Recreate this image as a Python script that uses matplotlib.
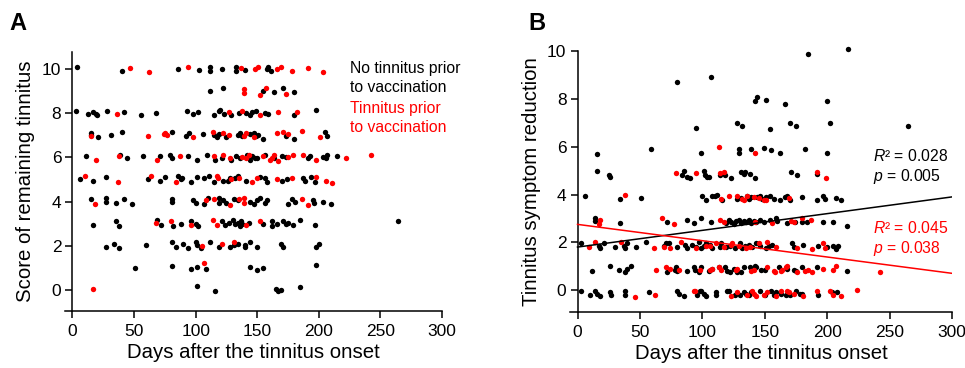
import matplotlib
matplotlib.use("Agg")
import matplotlib.pyplot as plt

plt.rcParams["font.family"] = ["Liberation Sans", "DejaVu Sans"]
plt.rcParams["mathtext.fontset"] = "custom"
plt.rcParams["mathtext.rm"] = "Liberation Sans"
plt.rcParams["mathtext.it"] = "Liberation Sans:italic"

RED = "#ff0000"
BLACK = "#000000"

# Panel A: (days after onset, remaining tinnitus score) - jittered
a_no_prior = [
    (4, 10.1), (40, 9.9), (86, 10.0), (103, 9.95), (112, 10.1), (112, 9.9), (121, 10.0), (133, 10.1),
    (133, 9.9), (140, 9.95), (158, 10.0), (159, 10.1), (161, 9.9),
    (112, 9.0), (122, 9.15), (155, 9.0), (164, 8.95), (171, 9.15), (180, 8.95),
    (3, 8.1), (13, 7.95), (17, 8.05), (19, 7.95), (20, 7.9), (28, 8.1), (42, 8.05), (56, 7.9), (68, 8.0),
    (93, 8.1), (98, 7.95), (102, 8.05), (115, 7.9), (119, 8.1), (120, 8.15), (123, 7.95), (129, 7.9),
    (135, 8.0), (141, 8.0), (144, 7.9), (146, 8.05), (149, 8.1), (156, 8.0), (159, 7.95), (180, 7.9), (198, 8.15),
    (15, 7.1), (15, 7.0), (21, 6.9), (31, 7.0), (40, 7.15), (81, 7.15), (92, 6.95), (95, 7.1), (106, 7.05),
    (115, 7.0), (117, 6.9), (119, 7.05), (125, 6.9), (134, 7.0), (136, 7.1), (138, 6.95), (144, 7.05),
    (147, 7.1), (149, 6.95), (151, 7.0), (155, 6.85), (173, 6.95), (180, 6.85), (205, 7.15), (207, 6.95),
    (11, 6.05), (39, 6.1), (44, 5.95), (57, 6.05), (71, 6.05), (79, 6.1), (81, 5.95), (94, 6.05), (101, 5.9),
    (109, 6.1), (116, 5.9), (121, 5.95), (129, 5.9), (133, 6.05), (136, 5.95), (142, 6.1), (144, 5.9),
    (146, 6.05), (148, 5.95), (150, 5.95), (156, 6.1), (164, 5.95), (170, 6.05), (173, 6.0), (191, 5.95),
    (193, 6.05), (203, 6.0), (206, 5.95), (207, 6.1), (215, 6.05),
    (6, 5.0), (17, 4.95), (27, 5.1), (61, 5.0), (71, 4.95), (75, 5.1), (86, 5.15), (88, 5.0), (89, 5.05),
    (96, 4.9), (101, 5.1), (107, 5.05), (111, 5.15), (115, 4.9), (122, 4.95), (126, 4.95), (128, 5.05),
    (132, 5.05), (134, 5.15), (141, 4.95), (152, 5.1), (156, 5.05), (158, 4.9), (170, 4.95), (174, 5.0),
    (187, 5.05), (189, 4.95), (194, 5.1), (197, 4.9),
    (15, 4.1), (27, 4.15), (27, 4.0), (35, 3.95), (42, 4.1), (48, 3.9), (81, 4.1), (81, 4.0), (98, 4.05),
    (100, 3.95), (107, 3.9), (110, 4.15), (119, 3.95), (119, 4.15), (122, 4.05), (125, 3.95), (131, 4.1),
    (134, 4.05), (144, 4.0), (147, 3.9), (150, 4.05), (152, 4.15), (156, 3.95), (158, 4.05), (175, 3.9),
    (178, 4.1), (181, 4.0), (195, 4.05), (196, 3.95), (203, 4.0), (210, 3.9),
    (17, 2.95), (35, 3.1), (38, 2.9), (69, 3.15), (72, 2.95), (82, 2.9), (88, 3.0), (96, 3.1), (100, 3.0),
    (102, 2.9), (121, 3.1), (124, 2.95), (127, 3.05), (130, 3.15), (132, 3.0), (134, 3.05), (136, 2.9),
    (137, 3.1), (138, 3.0), (143, 3.05), (155, 3.0), (162, 3.1), (162, 2.9), (166, 3.0), (171, 3.1),
    (173, 3.0), (175, 3.05), (179, 2.95), (185, 3.15), (197, 2.95), (264, 3.1),
    (27, 1.95), (34, 2.1), (38, 1.9), (60, 2.05), (81, 2.15), (84, 1.95), (90, 2.1), (94, 1.9), (100, 2.15),
    (101, 2.05), (104, 1.9), (112, 2.15), (119, 1.95), (128, 1.95), (131, 2.05), (134, 2.1), (140, 2.05),
    (140, 1.95), (144, 2.15), (150, 1.95), (169, 2.1), (171, 1.95), (198, 1.95), (200, 2.1),
    (51, 1.0), (81, 1.1), (96, 0.95), (101, 1.05), (108, 0.95), (144, 1.05), (150, 0.9), (155, 1.0), (198, 1.15),
    (101, 0.2), (116, -0.05), (165, 0.05), (167, -0.05), (169, 0.0), (185, 0.15),
]
a_prior = [
    (47, 10.05), (62, 9.85), (94, 10.1), (137, 10.05), (148, 10.0), (151, 10.1), (166, 10.0), (169, 10.1),
    (178, 9.9), (191, 10.05), (203, 9.85),
    (139, 9.1), (139, 8.9), (152, 8.8), (157, 9.15), (173, 8.85),
    (36, 7.95), (127, 8.05), (138, 8.1), (152, 7.9), (167, 8.05), (182, 8.05),
    (15, 6.95), (61, 6.95), (74, 7.05), (75, 7.1), (77, 7.0), (98, 6.9), (114, 7.15), (122, 7.1), (127, 7.0),
    (139, 6.95), (141, 7.1), (147, 6.9), (166, 7.1), (171, 7.15), (175, 7.05), (186, 7.2), (201, 6.9),
    (19, 5.9), (38, 6.05), (69, 5.9), (87, 6.05), (115, 6.05), (122, 6.1), (128, 5.95), (138, 6.0), (141, 5.95),
    (143, 6.1), (155, 6.05), (160, 5.9), (162, 5.95), (164, 6.1), (167, 5.85), (175, 6.0), (179, 6.1),
    (187, 6.1), (198, 5.9), (222, 5.95), (242, 6.1),
    (10, 5.15), (37, 4.9), (64, 5.15), (84, 4.9), (117, 5.15), (118, 5.05), (129, 5.0), (135, 5.05),
    (146, 4.9), (150, 5.05), (166, 5.0), (178, 5.05), (198, 5.1), (206, 4.95), (211, 4.85),
    (18, 3.9), (108, 4.05), (115, 4.1), (128, 3.85), (135, 4.1), (139, 4.15), (139, 3.95), (186, 4.1), (191, 3.85),
    (68, 3.05), (80, 3.1), (96, 2.95), (114, 3.15), (117, 2.95), (141, 2.95), (152, 3.1),
    (105, 2.0), (121, 2.1), (131, 2.15),
    (107, 1.2),
    (17, 0.05),
]

# Panel B: (days after onset, symptom reduction) - jittered
b_no_prior = [
    (185, 9.87), (217, 10.08), (80, 8.7), (107, 8.9), (142, 7.9), (144, 8.1), (151, 7.95), (166, 7.8), (200, 7.9),
    (95, 6.8), (128, 7.0), (132, 6.85), (154, 6.75), (170, 7.0), (175, 6.85), (202, 7.0), (265, 6.86),
    (16, 5.7), (59, 5.9), (99, 5.75), (129, 5.9), (129, 5.75), (139, 5.9), (149, 5.95), (155, 5.85),
    (162, 5.75), (182, 5.9), (200, 5.75),
    (16, 5.0), (25, 4.8), (26, 4.75), (84, 4.8), (85, 5.0), (88, 4.75), (90, 4.7), (101, 5.0), (102, 4.8),
    (104, 4.75), (105, 4.75), (114, 4.8), (118, 4.8), (123, 4.7), (131, 4.95), (133, 4.85), (134, 4.95),
    (138, 4.85), (142, 4.7), (171, 4.95), (176, 4.8), (192, 4.85),
    (6, 3.95), (34, 3.8), (51, 3.85), (100, 3.95), (103, 3.75), (108, 3.95), (110, 3.95), (112, 4.0),
    (116, 3.75), (128, 3.8), (131, 3.85), (136, 3.95), (137, 3.8), (139, 3.9), (144, 3.9), (146, 3.95),
    (148, 3.8), (151, 3.9), (154, 3.95), (157, 3.8), (162, 3.75), (166, 3.9), (168, 3.95), (170, 3.75),
    (180, 3.9), (192, 3.75), (197, 3.95), (198, 3.8), (207, 3.85), (211, 3.75),
    (14, 3.0), (14, 2.9), (34, 2.8), (72, 2.85), (88, 2.95), (93, 2.8), (99, 3.0), (107, 2.85), (119, 2.8),
    (121, 2.95), (123, 2.85), (125, 2.75), (127, 2.9), (129, 2.95), (131, 2.8), (133, 2.9), (135, 2.85),
    (137, 2.95), (139, 2.8), (141, 2.9), (143, 2.85), (146, 2.95), (149, 2.85), (154, 2.95), (159, 3.0),
    (160, 2.9), (168, 2.8), (174, 2.85), (180, 2.85), (184, 2.85), (197, 2.85), (205, 2.85), (216, 2.7),
    (3, 1.95), (17, 1.85), (18, 1.75), (21, 1.95), (30, 1.8), (37, 1.85), (38, 1.75), (40, 1.95), (47, 1.8),
    (55, 2.0), (69, 1.85), (71, 1.95), (73, 1.95), (80, 1.8), (86, 1.9), (88, 1.75), (92, 1.9), (95, 1.8),
    (97, 2.0), (99, 1.75), (101, 1.85), (103, 1.95), (106, 1.9), (108, 1.75), (114, 1.8), (115, 1.95),
    (119, 1.8), (122, 1.85), (126, 1.75), (130, 1.95), (132, 1.75), (134, 1.85), (137, 1.9), (140, 1.8),
    (143, 1.95), (146, 1.85), (151, 1.75), (153, 1.85), (156, 1.9), (172, 1.95), (173, 1.8), (181, 1.9),
    (193, 1.85), (200, 1.8), (205, 1.85), (207, 1.7), (209, 1.85),
    (12, 0.8), (26, 1.0), (33, 0.85), (38, 0.75), (40, 0.9), (43, 1.0), (72, 0.75), (78, 0.85), (79, 0.95),
    (80, 0.8), (88, 0.8), (93, 0.95), (94, 0.85), (97, 0.75), (99, 0.95), (105, 0.8), (108, 0.9), (113, 0.95),
    (118, 0.95), (120, 0.8), (122, 0.75), (125, 0.9), (128, 0.75), (131, 0.75), (133, 0.95), (138, 0.95),
    (142, 1.0), (143, 0.95), (147, 0.85), (150, 0.85), (161, 0.95), (168, 0.9), (173, 0.85), (175, 0.8),
    (180, 0.95), (192, 0.95), (216, 0.8),
    (3, -0.05), (10, -0.2), (14, -0.05), (16, -0.15), (18, -0.25), (26, -0.1), (27, -0.2), (38, -0.05),
    (38, -0.2), (57, -0.1), (80, -0.05), (81, -0.15), (85, -0.25), (96, -0.2), (98, -0.05), (99, -0.05),
    (101, -0.15), (103, -0.25), (111, -0.1), (111, -0.2), (120, -0.05), (121, -0.05), (126, -0.2),
    (130, -0.2), (133, -0.1), (135, -0.15), (137, -0.2), (139, -0.1), (146, -0.05), (150, -0.2),
    (155, -0.05), (157, -0.2), (159, -0.1), (163, -0.15), (167, -0.2), (170, -0.2), (175, -0.05),
    (178, -0.15), (180, -0.15), (193, -0.2), (204, -0.1), (208, -0.1),
]
b_prior = [
    (113, 6.0), (142, 5.75),
    (79, 4.9), (95, 4.9), (114, 4.9), (117, 4.95), (192, 4.95), (199, 4.7),
    (38, 4.0), (115, 3.8), (121, 3.95), (128, 3.95), (132, 3.8), (133, 3.75), (136, 3.95), (141, 3.9),
    (145, 3.85), (149, 3.75), (151, 3.75), (169, 3.85),
    (17, 2.75), (18, 2.95), (68, 3.0), (77, 2.75), (114, 2.95), (117, 2.85), (142, 2.85), (156, 2.8),
    (171, 2.9), (173, 2.85), (180, 3.0), (187, 2.95),
    (9, 1.8), (14, 2.0), (35, 2.0), (61, 1.75), (69, 1.8), (74, 1.75), (83, 2.0), (95, 1.75), (103, 1.85),
    (106, 1.85), (111, 1.95), (117, 1.8), (123, 1.9), (124, 1.95), (129, 1.85), (135, 1.75), (138, 1.8),
    (145, 1.95), (152, 2.0), (159, 1.8), (176, 1.75), (188, 1.7), (197, 1.95), (198, 1.75),
    (63, 0.85), (71, 0.95), (74, 0.9), (81, 0.85), (98, 0.85), (106, 0.85), (108, 0.9), (113, 0.95),
    (115, 0.85), (127, 0.85), (128, 0.9), (139, 0.8), (141, 0.85), (152, 0.95), (157, 0.8), (158, 0.75),
    (163, 0.8), (164, 0.85), (167, 0.95), (168, 1.0), (176, 0.75), (182, 0.8), (185, 0.85), (188, 0.75),
    (197, 0.9), (205, 0.85), (207, 1.0), (242, 0.75),
    (46, -0.28), (62, -0.2), (93, -0.05), (94, -0.05), (123, -0.25), (128, -0.1), (136, -0.2), (140, -0.05),
    (141, -0.15), (143, -0.25), (149, -0.2), (152, -0.1), (159, -0.25), (163, -0.05), (168, -0.05),
    (169, -0.1), (173, -0.15), (181, -0.25), (192, -0.05), (202, -0.05), (205, -0.2), (211, -0.25), (224, 0.0),
]

# fitted regression lines (intercept, slope) and stats
fit_no_prior = (1.80, 0.0070)
fit_prior = (2.75, -0.00683)
stats_no_prior = ("0.028", "0.005")
stats_prior = ("0.045", "0.038")

x_ticks = [0, 50, 100, 150, 200, 250, 300]
a_y_ticks = [0, 2, 4, 6, 8, 10]
b_y_ticks = [0, 2, 4, 6, 8, 10]

TICK_FS = 12.5
LABEL_FS = 14.7
NOTE_FS = 11.3
DOT = 15


def style_axes(ax, ylim, yticks):
    ax.set_xlim(-6, 300)
    ax.set_ylim(*ylim)
    ax.spines["top"].set_visible(False)
    ax.spines["right"].set_visible(False)
    ax.spines["left"].set_position(("data", 0))
    ax.spines["left"].set_linewidth(1.1)
    ax.spines["bottom"].set_linewidth(1.1)
    ax.set_xticks(x_ticks)
    ax.set_yticks(yticks)
    ax.tick_params(direction="out", length=5, width=1.1, labelsize=TICK_FS, pad=3)
    ax.tick_params(axis="x", pad=4.5)
    ax.set_xlabel("Days after the tinnitus onset", fontsize=LABEL_FS, labelpad=3)


def scatter(ax, pts, color):
    xs = [p[0] for p in pts]
    ys = [p[1] for p in pts]
    ax.scatter(xs, ys, s=DOT, color=color, linewidths=0, clip_on=False, zorder=3)


fig = plt.figure(figsize=(9.65, 3.68), dpi=100)

ax_a = fig.add_axes([0.0674, 0.155, 0.3907, 0.704])
style_axes(ax_a, (-0.95, 10.77), a_y_ticks)
scatter(ax_a, a_no_prior, BLACK)
scatter(ax_a, a_prior, RED)
ax_a.set_ylabel("Score of remaining tinnitus", fontsize=LABEL_FS, labelpad=5)
ax_a.text(225, 10.35, "No tinnitus prior\nto vaccination", fontsize=NOTE_FS, color=BLACK,
          va="top", ha="left", linespacing=1.3)
ax_a.text(225, 8.55, "Tinnitus prior\nto vaccination", fontsize=NOTE_FS, color=RED,
          va="top", ha="left", linespacing=1.3)
fig.text(0.010, 0.905, "A", fontsize=17, fontweight="bold", va="bottom")

ax_b = fig.add_axes([0.5907, 0.152, 0.3959, 0.709])
style_axes(ax_b, (-0.92, 10.0), b_y_ticks)
scatter(ax_b, b_no_prior, BLACK)
scatter(ax_b, b_prior, RED)
line_x = [0, 300]
ax_b.plot(line_x, [fit_no_prior[0] + fit_no_prior[1] * x for x in line_x], color=BLACK, lw=1.1, zorder=4)
ax_b.plot(line_x, [fit_prior[0] + fit_prior[1] * x for x in line_x], color=RED, lw=1.1, zorder=4)
ax_b.set_ylabel("Tinnitus symptom reduction", fontsize=LABEL_FS, labelpad=4)
ax_b.text(237, 5.95, f"$R$² = {stats_no_prior[0]}\n$p$ = {stats_no_prior[1]}", fontsize=NOTE_FS,
          color=BLACK, va="top", ha="left", linespacing=1.25)
ax_b.text(237, 2.95, f"$R$² = {stats_prior[0]}\n$p$ = {stats_prior[1]}", fontsize=NOTE_FS,
          color=RED, va="top", ha="left", linespacing=1.25)
fig.text(0.548, 0.905, "B", fontsize=17, fontweight="bold", va="bottom")

fig.savefig("out.png", dpi=100)
